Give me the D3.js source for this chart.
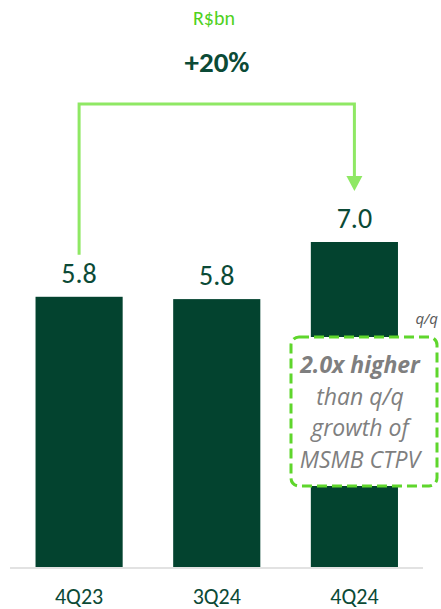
<!DOCTYPE html>
<html>
<head>
<meta charset="utf-8">
<script src="https://cdn.jsdelivr.net/npm/d3@7"></script>
<style>
  html, body { margin: 0; padding: 0; background: #fff; }
  svg { display: block; font-family: Carlito, Lato, "Open Sans", sans-serif; }
</style>
</head>
<body>
<svg id="chart" width="441" height="609"></svg>
<script>
// Quarterly values (R$bn)
const categories = ["4Q23", "3Q24", "4Q24"];
const values = [5.82, 5.77, 7.0];
const growthLabel = "+20%";
const unitLabel = "R$bn";
const noteLines = ["2.0x higher", "than q/q", "growth of", "MSMB CTPV"];
const noteTag = "q/q";

const barColor = "#03432f";
const textDark = "#0b4a36";
const arrowGreen = "#8fe864";
const dashGreen = "#5fd62c";
const noteGray = "#7f7f7f";
const bodyFont = "Carlito, Lato, sans-serif";
const noteFont = "'Open Sans', 'Noto Sans', sans-serif";

const svg = d3.select("#chart");

const x = d3.scaleBand()
  .domain(categories)
  .range([8, 425.5])
  .paddingInner(0.367)
  .paddingOuter(0.2);

const y = d3.scaleLinear()
  .domain([0, 7])
  .range([567, 242]);

// Bars
svg.selectAll("rect.bar")
  .data(values)
  .join("rect")
  .attr("class", "bar")
  .attr("x", (d, i) => x(categories[i]))
  .attr("y", d => y(d))
  .attr("width", x.bandwidth())
  .attr("height", d => y(0) - y(d))
  .attr("fill", barColor);

// Baseline
svg.append("line")
  .attr("x1", 10).attr("x2", 423)
  .attr("y1", 568).attr("y2", 568)
  .attr("stroke", "#d9d9d9").attr("stroke-width", 1.5);

// Category axis labels
const xAxis = d3.axisBottom(x).tickSize(0).tickPadding(0);
const gx = svg.append("g").attr("transform", "translate(0,604)").call(xAxis);
gx.select(".domain").remove();
gx.selectAll("text")
  .attr("fill", textDark)
  .attr("font-size", 22)
  .attr("font-family", bodyFont)
  .attr("y", 0)
  .attr("dy", 0);

// Value labels
svg.selectAll("text.val")
  .data(values)
  .join("text")
  .attr("class", "val")
  .attr("x", (d, i) => x(categories[i]) + x.bandwidth() / 2)
  .attr("y", d => y(d) - 14)
  .attr("text-anchor", "middle")
  .attr("fill", textDark)
  .attr("font-size", 28)
  .text(d => d3.format(".1f")(d));

// Growth bracket from first to last bar
const xStart = x(categories[0]) + x.bandwidth() / 2;
const xEnd = x(categories[2]) + x.bandwidth() / 2;
const bracketTop = 104;
svg.append("path")
  .attr("d", `M${xStart},${y(values[0]) - 42} V${bracketTop} H${xEnd} V${y(values[2]) - 64}`)
  .attr("fill", "none")
  .attr("stroke", arrowGreen)
  .attr("stroke-width", 3);
const tipY = y(values[2]) - 51;
svg.append("path")
  .attr("d", `M${xEnd - 8},${tipY - 15} L${xEnd + 8},${tipY - 15} L${xEnd},${tipY} Z`)
  .attr("fill", arrowGreen);

// Header texts
svg.append("text")
  .attr("x", 214).attr("y", 25)
  .attr("text-anchor", "middle")
  .attr("fill", "#4fd11c")
  .attr("font-size", 20)
  .text(unitLabel);

svg.append("text")
  .attr("x", 217).attr("y", 72)
  .attr("text-anchor", "middle")
  .attr("fill", textDark)
  .attr("font-size", 29)
  .attr("font-weight", "bold")
  .text(growthLabel);

// q/q tag
svg.append("text")
  .attr("x", 438).attr("y", 324)
  .attr("text-anchor", "end")
  .attr("fill", "#595959")
  .attr("font-size", 15)
  .attr("font-family", noteFont)
  .attr("font-style", "italic")
  .text(noteTag);

// Dashed note box
svg.append("rect")
  .attr("x", 291).attr("y", 337)
  .attr("width", 146).attr("height", 149)
  .attr("rx", 8).attr("ry", 8)
  .attr("fill", "#fff")
  .attr("stroke", dashGreen)
  .attr("stroke-width", 3)
  .attr("stroke-dasharray", "10,5");

svg.selectAll("text.note")
  .data(noteLines)
  .join("text")
  .attr("class", "note")
  .attr("x", 360)
  .attr("y", (d, i) => 373 + i * 31.7)
  .attr("text-anchor", "middle")
  .attr("fill", noteGray)
  .attr("font-size", 23)
  .attr("font-family", noteFont)
  .attr("font-style", "italic")
  .attr("font-weight", (d, i) => i === 0 ? "bold" : "normal")
  .text(d => d);
</script>
</body>
</html>
